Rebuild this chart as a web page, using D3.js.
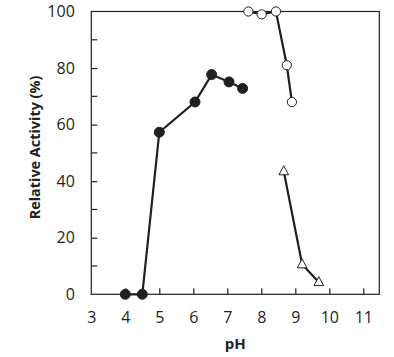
<!DOCTYPE html>
<html><head><meta charset="utf-8">
<script src="https://cdn.jsdelivr.net/npm/d3@7"></script>
<style>body{margin:0;background:#fff}svg{display:block}</style>
</head><body>
<script>
// Data
const filledPH = [4.0, 4.5, 5.0, 6.05, 6.54, 7.05, 7.45];
const filledAct = [0, 0, 57.3, 68, 77.7, 75.1, 72.8];
const openPH = [7.62, 8.01, 8.43, 8.75, 8.9];
const openAct = [100, 99, 100, 81, 68];
const triPH = [8.66, 9.2, 9.69];
const triAct = [43.5, 10.6, 4.3];
const xTicks = [3, 4, 5, 6, 7, 8, 9, 10, 11];
const yTicks = [0, 20, 40, 60, 80, 100];
const yMinor = [10, 30, 50, 70, 90];

const W = 394, H = 357;
const m = {l: 91.3, r: 379.3, t: 11.5, b: 294.3};
const ink = "#231f20";
const font = "'Open Sans', sans-serif";

const svg = d3.select("body").append("svg").attr("width", W).attr("height", H);
const x = d3.scaleLinear().domain([3, 11.47]).range([m.l, m.r]);
const y = d3.scaleLinear().domain([0, 100]).range([m.b, m.t]);

// frame
svg.append("rect").attr("x", m.l).attr("y", m.t).attr("width", m.r - m.l).attr("height", m.b - m.t)
  .attr("fill", "none").attr("stroke", ink).attr("stroke-width", 1.2);

// x axis
const xAxis = svg.append("g").attr("transform", `translate(0,${m.b})`)
  .call(d3.axisBottom(x).tickValues(xTicks).tickSizeInner(-6).tickSizeOuter(0).tickPadding(17).tickFormat(d3.format("d")));
xAxis.select(".domain").remove();
xAxis.selectAll(".tick line").attr("stroke", ink).attr("stroke-width", 1.2).filter(d => d === 3).remove();
xAxis.selectAll("text").attr("fill", ink).style("font-family", font).style("font-size", "16px");

// y axis
const yAxis = svg.append("g").attr("transform", `translate(${m.l},0)`)
  .call(d3.axisLeft(y).tickValues(yTicks).tickSizeInner(-6).tickSizeOuter(0).tickPadding(16.5).tickFormat(d3.format("d")));
yAxis.select(".domain").remove();
yAxis.selectAll(".tick line").attr("stroke", ink).attr("stroke-width", 1.2).filter(d => d === 0 || d === 100).remove();
yAxis.selectAll("text").attr("fill", ink).style("font-family", font).style("font-size", "16px");
svg.append("g").selectAll("line").data(yMinor).join("line")
  .attr("x1", m.l).attr("x2", m.l + 6).attr("y1", d => y(d)).attr("y2", d => y(d))
  .attr("stroke", ink).attr("stroke-width", 1.2);

// labels
svg.append("text").attr("x", (m.l + m.r) / 2).attr("y", 349).attr("text-anchor", "middle")
  .attr("fill", ink).style("font-family", font).style("font-size", "15px").style("font-weight", "bold").text("pH");
svg.append("text").attr("transform", `translate(39.5,147.5) rotate(-90)`).attr("text-anchor", "middle")
  .attr("fill", ink).style("font-family", font).style("font-size", "14.4px").style("font-weight", "bold").text("Relative Activity (%)");

const line = d3.line();
function series(xs, ys, shape, fill) {
  const pts = xs.map((v, i) => [x(v), y(ys[i])]);
  svg.append("path").attr("d", line(pts)).attr("fill", "none").attr("stroke", ink).attr("stroke-width", 2.2);
  const g = svg.append("g");
  if (shape === "circle") {
    g.selectAll("circle").data(pts).join("circle").attr("cx", d => d[0]).attr("cy", d => d[1])
      .attr("r", fill === ink ? 5 : 4.6).attr("fill", fill).attr("stroke", ink).attr("stroke-width", 1);
  } else {
    g.selectAll("path").data(pts).join("path")
      .attr("d", d => `M${d[0]},${d[1] - 5.5}L${d[0] + 4.8},${d[1] + 3.5}L${d[0] - 4.8},${d[1] + 3.5}Z`)
      .attr("fill", fill).attr("stroke", ink).attr("stroke-width", 1);
  }
}
series(filledPH, filledAct, "circle", ink);
series(openPH, openAct, "circle", "#fff");
series(triPH, triAct, "tri", "#fff");
</script>
</body></html>
